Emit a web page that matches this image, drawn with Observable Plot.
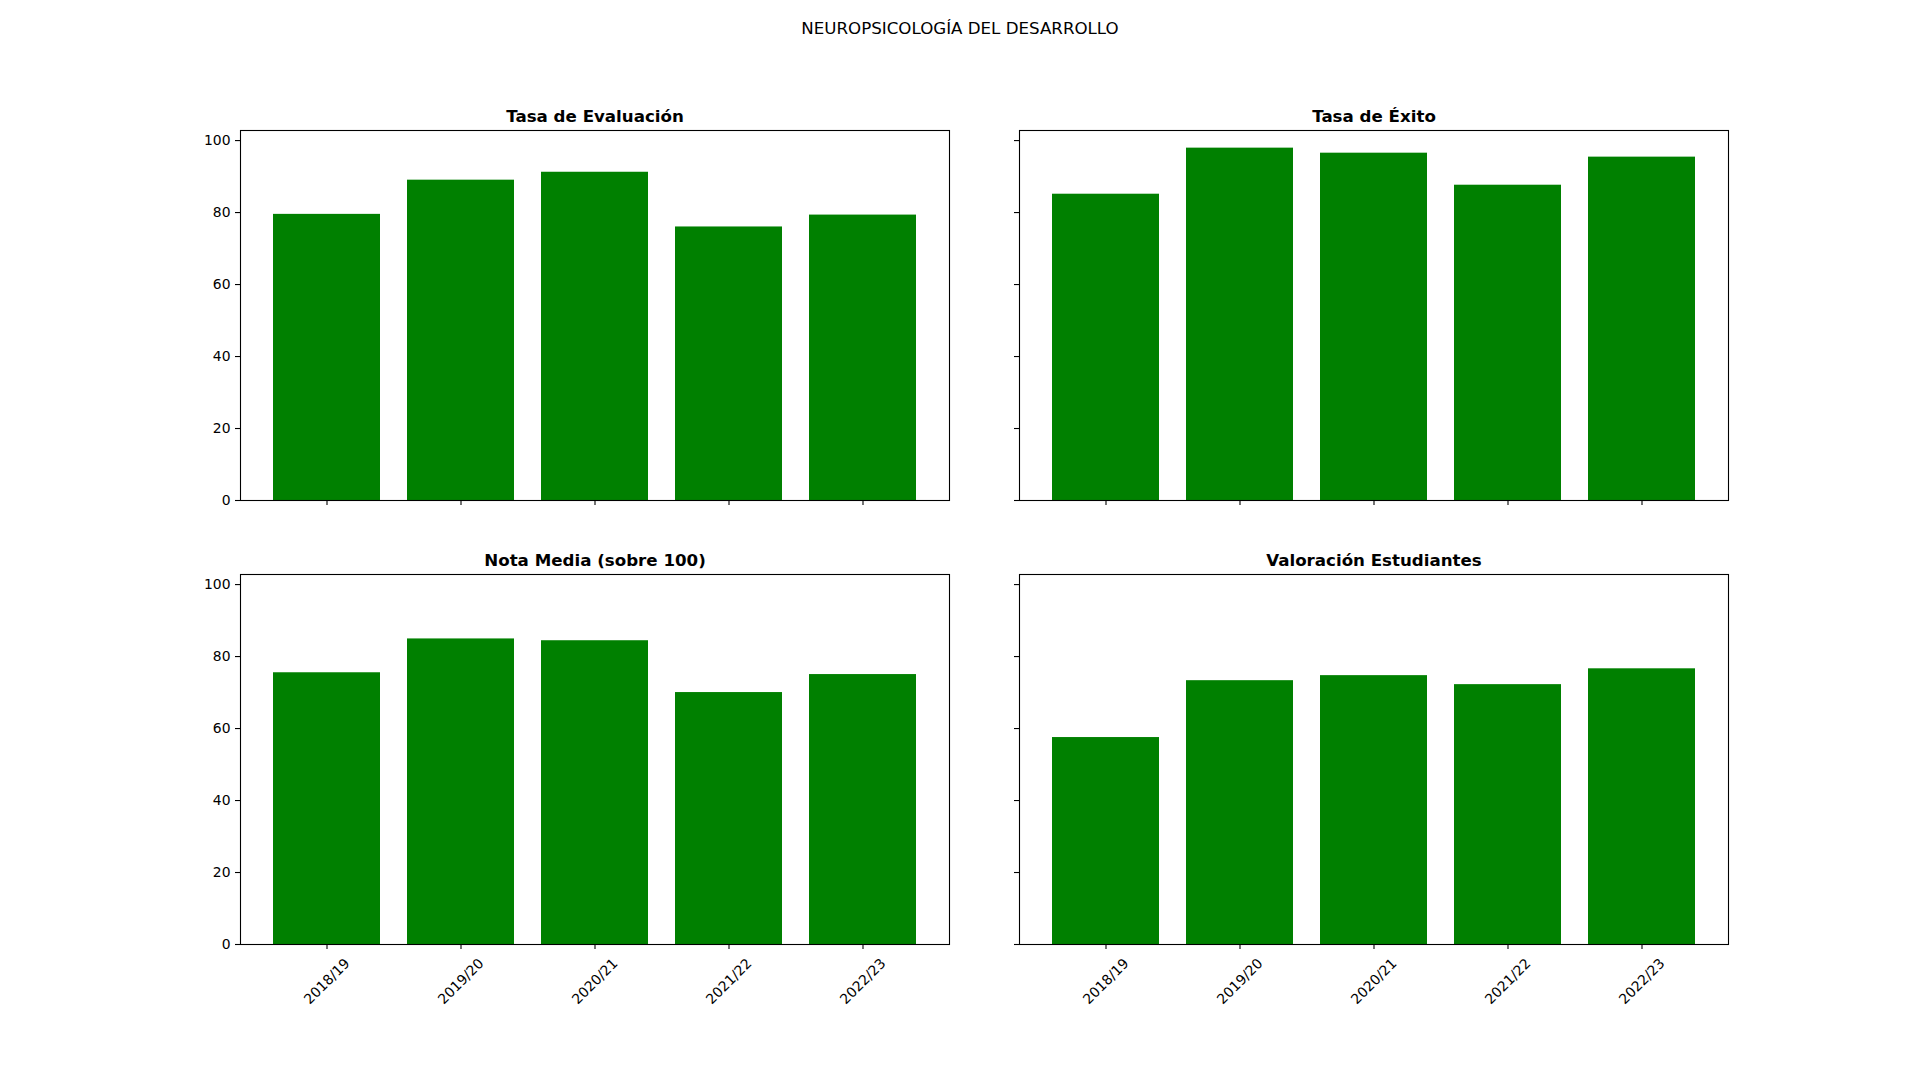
<!DOCTYPE html>
<html>
<head>
<meta charset="utf-8">
<script src="https://cdn.jsdelivr.net/npm/d3@7"></script>
<script src="https://cdn.jsdelivr.net/npm/@observablehq/plot@0.6"></script>
<style>
  html, body { margin: 0; padding: 0; background: #fff; }
  #fig { position: relative; width: 1920px; height: 1080px; background: #fff; font-family: "DejaVu Sans", sans-serif; }
  #suptitle { position: absolute; left: 0; width: 1920px; top: 19px; text-align: center; font-size: 16.67px; color: #000; }
  .panel { position: absolute; }
</style>
</head>
<body>
<div id="fig">
  <div id="suptitle">NEUROPSICOLOGÍA DEL DESARROLLO</div>
</div>
<script>
const years = ["2018/19", "2019/20", "2020/21", "2021/22", "2022/23"];
const tasaEvaluacion = [79.5, 89.0, 91.2, 76.0, 79.3];
const tasaExito = [85.1, 97.9, 96.5, 87.6, 95.4];
const notaMedia = [75.5, 84.9, 84.4, 70.0, 75.0];
const valoracion = [57.5, 73.3, 74.7, 72.2, 76.6];
const yTicks = [0, 20, 40, 60, 80, 100];

const panels = [
  {title: "Tasa de Evaluación", values: tasaEvaluacion, left: 240, top: 130, yLabels: true, xLabels: false},
  {title: "Tasa de Éxito", values: tasaExito, left: 1019, top: 130, yLabels: false, xLabels: false},
  {title: "Nota Media (sobre 100)", values: notaMedia, left: 240, top: 574, yLabels: true, xLabels: true},
  {title: "Valoración Estudiantes", values: valoracion, left: 1019, top: 574, yLabels: false, xLabels: true}
];

const W = 709, H = 370;
const mL = 60, mR = 20, mT = 40, mB = 90;
const fig = document.getElementById("fig");

for (const p of panels) {
  const data = years.map((y, i) => ({year: y, value: p.values[i]}));
  const marks = [
    Plot.barY(data, {x: "year", y: "value", fill: "#008000"}),
    Plot.frame({stroke: "black", strokeWidth: 1.1}),
    Plot.axisY({ticks: yTicks, tickSize: 5, tickPadding: 5, label: null, strokeWidth: 1.1,
      tickFormat: p.yLabels ? (d => String(d)) : (() => ""), fontSize: 13.9, fill: "black"}),
    Plot.axisX({tickSize: 5, tickFormat: () => "", label: null, strokeWidth: 1.1}),
    Plot.text([p.title], {frameAnchor: "top", dy: -8.5, lineAnchor: "bottom", text: d => d,
      fontWeight: "bold", fontSize: 16.67, fill: "black"})
  ];
  if (p.xLabels) {
    marks.push(Plot.text(years, {x: d => d, text: d => d, frameAnchor: "bottom", dy: 37,
      rotate: -45, textAnchor: "middle", lineAnchor: "middle", fontSize: 13.9, fill: "black"}));
  }
  const chart = Plot.plot({
    width: W + mL + mR,
    height: H + mT + mB,
    marginLeft: mL, marginRight: mR, marginTop: mT, marginBottom: mB,
    x: {type: "band", domain: years, paddingInner: 0.2, paddingOuter: 0.24, axis: null},
    y: {domain: [0, 102.8], axis: null},
    style: {fontFamily: "DejaVu Sans", fontSize: "13.9px", color: "black", background: "transparent", overflow: "visible"},
    marks
  });
  const div = document.createElement("div");
  div.className = "panel";
  div.style.left = (p.left - mL) + "px";
  div.style.top = (p.top - mT) + "px";
  div.appendChild(chart);
  fig.appendChild(div);
}
</script>
</body>
</html>
